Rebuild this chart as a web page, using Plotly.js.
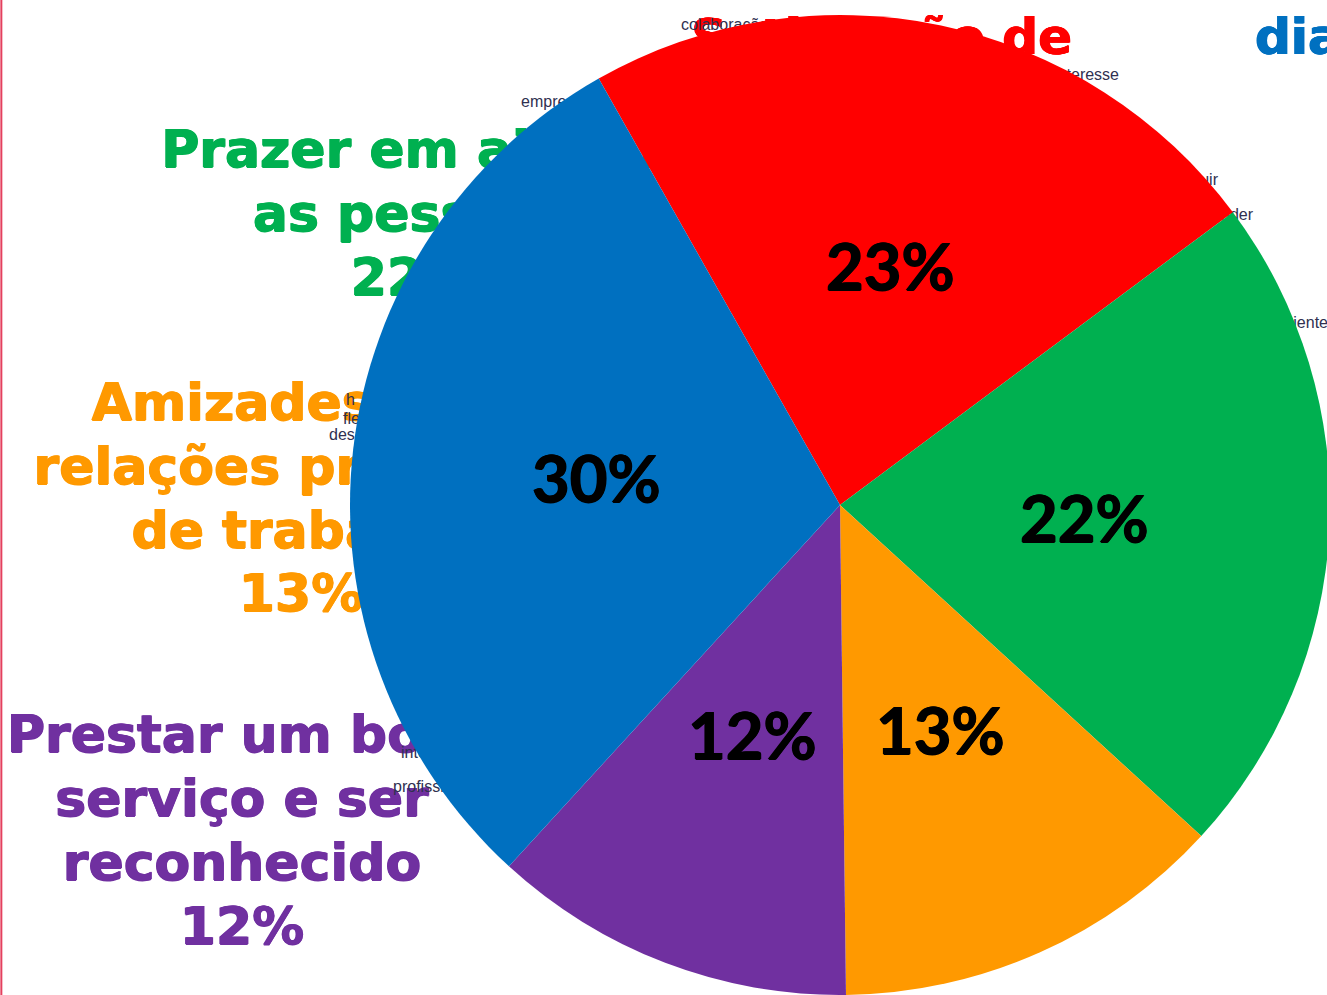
<!DOCTYPE html>
<html>
<head>
<meta charset="utf-8">
<script src="https://cdn.plot.ly/plotly-3.0.1.min.js"></script>
<style>
html, body { margin: 0; padding: 0; overflow: hidden; background: #ffffff; }
#chart { width: 1337px; height: 995px; }
</style>
</head>
<body>
<div id="chart"></div>
<script>
// ---------------- data ----------------
const sliceLabels = [
  'Satisfação de',
  'Prazer em ajudar as pessoas',
  'Amizades e as relações próximas de trabalho',
  'Prestar um bom serviço e ser reconhecido',
  'dia a dia'
];
const sliceValues = [23, 22, 13, 12, 30];

// slide text lying behind the pie
const greenLines  = ['Prazer em ajudar', 'as pessoas'];
const orangeLines = ['Amizades e as', 'relações próximas', 'de trabalho'];
const purpleLines = ['Prestar um bom', 'serviço e ser', 'reconhecido'];
const titleRed  = 'Satisfação de';
const titleBlue = 'dia a dia';
const cloudWordsStart = ['colaboração', 'empresa', 'h', 'flexibilidade', 'desafio', 'interação', 'profissional'];
const cloudWordsEnd   = ['interesse', 'construir', 'aprender', 'ambiente'];

// ---------------- styles / layout constants ----------------
const W = 1337, H = 995;
const sliceColors = ['#FF0000', '#00B050', '#FF9900', '#7030A0', '#0070C0'];
const pieCx = 840, pieCy = 505, pieR = 490, rotation = -29.5;

const bigFont = 'DejaVu Sans, Arial, sans-serif';
const bigSize = 52;

function heavy(color) {
  return '0.7px 0 0 ' + color + ', -0.7px 0 0 ' + color + ', 0 0.5px 0 ' + color;
}

const traces = [];

// big coloured slide texts (drawn below the pie, on hidden cartesian axes)
function slideBlock(lines, pct, cx, baselines, color) {
  const all = lines.concat([pct + '%']);
  traces.push({
    type: 'scatter', mode: 'text', hoverinfo: 'skip', cliponaxis: false, showlegend: false,
    x: all.map(() => cx),
    y: baselines.map(b => b - 0.25 * bigSize),
    text: all.map(s => '<b>' + s + '</b>'),
    textposition: 'middle center',
    textfont: { family: bigFont, size: bigSize, color: color, shadow: heavy(color) }
  });
}
slideBlock(greenLines,  sliceValues[1], 413, [167, 231, 295], sliceColors[1]);
slideBlock(orangeLines, sliceValues[2], 301, [420, 484, 548, 611], sliceColors[2]);
slideBlock(purpleLines, sliceValues[3], 242, [752, 816, 880, 944], sliceColors[3]);

traces.push({
  type: 'scatter', mode: 'text', hoverinfo: 'skip', cliponaxis: false, showlegend: false,
  x: [1072], y: [41], text: ['<b>' + titleRed + '</b>'], textposition: 'middle left',
  textfont: { family: bigFont, size: 50, color: sliceColors[0], shadow: heavy(sliceColors[0]) }
});
traces.push({
  type: 'scatter', mode: 'text', hoverinfo: 'skip', cliponaxis: false, showlegend: false,
  x: [1255], y: [41], text: ['<b>' + titleBlue + '</b>'], textposition: 'middle right',
  textfont: { family: bigFont, size: 50, color: sliceColors[4], shadow: heavy(sliceColors[4]) }
});
// small word-cloud fragments
traces.push({
  type: 'scatter', mode: 'text', hoverinfo: 'skip', cliponaxis: false, showlegend: false,
  x: [681, 521, 346, 343, 329, 401, 393],
  y: [26, 103, 401, 420, 436, 754, 788],
  text: cloudWordsStart, textposition: 'middle right',
  textfont: { family: 'Liberation Sans, Arial, sans-serif', size: 16, color: '#2f3050' }
});
traces.push({
  type: 'scatter', mode: 'text', hoverinfo: 'skip', cliponaxis: false, showlegend: false,
  x: [1119, 1218, 1253, 1328],
  y: [76, 181, 216, 324],
  text: cloudWordsEnd, textposition: 'middle left',
  textfont: { family: 'Liberation Sans, Arial, sans-serif', size: 16, color: '#2f3050' }
});

// the pie
traces.push({
  type: 'pie',
  labels: sliceLabels,
  values: sliceValues,
  sort: false,
  direction: 'clockwise',
  rotation: rotation,
  marker: { colors: sliceColors, line: { width: 0 } },
  textinfo: 'none',
  hoverinfo: 'label+percent',
  showlegend: false,
  domain: { x: [(pieCx - pieR) / W, (pieCx + pieR) / W], y: [(H - pieCy - pieR) / H, (H - pieCy + pieR) / H] }
});

// percentage labels, placed on each slice bisector from the values
const total = sliceValues.reduce((a, b) => a + b, 0);
let cum = 0;
const annotations = sliceValues.map((v, i) => {
  const mid = (rotation + (cum + v / 2) / total * 360) * Math.PI / 180;
  cum += v;
  return {
    xref: 'x', yref: 'y',
    x: pieCx + 0.5 * pieR * Math.sin(mid),
    y: pieCy - 0.5 * pieR * Math.cos(mid),
    text: '<b>' + Math.round(v / total * 100) + '%</b>',
    showarrow: false, xanchor: 'center', yanchor: 'middle', yshift: 0,
    font: { family: 'Lato, Carlito, Calibri, sans-serif', size: 65, color: '#000000', shadow: heavy('#000000') }
  };
});

const layout = {
  width: W, height: H,
  margin: { l: 0, r: 0, t: 0, b: 0, pad: 0 },
  paper_bgcolor: '#ffffff', plot_bgcolor: 'rgba(0,0,0,0)',
  showlegend: false,
  xaxis: { range: [0, W], visible: false, fixedrange: true },
  yaxis: { range: [H, 0], visible: false, fixedrange: true },
  annotations: annotations,
  shapes: [{ type: 'line', xref: 'paper', yref: 'paper', x0: 0.001, x1: 0.001, y0: 0, y1: 1,
             line: { color: '#e4405e', width: 2 }, layer: 'above' }]
};

Plotly.newPlot('chart', traces, layout, { displayModeBar: false });
</script>
</body>
</html>
